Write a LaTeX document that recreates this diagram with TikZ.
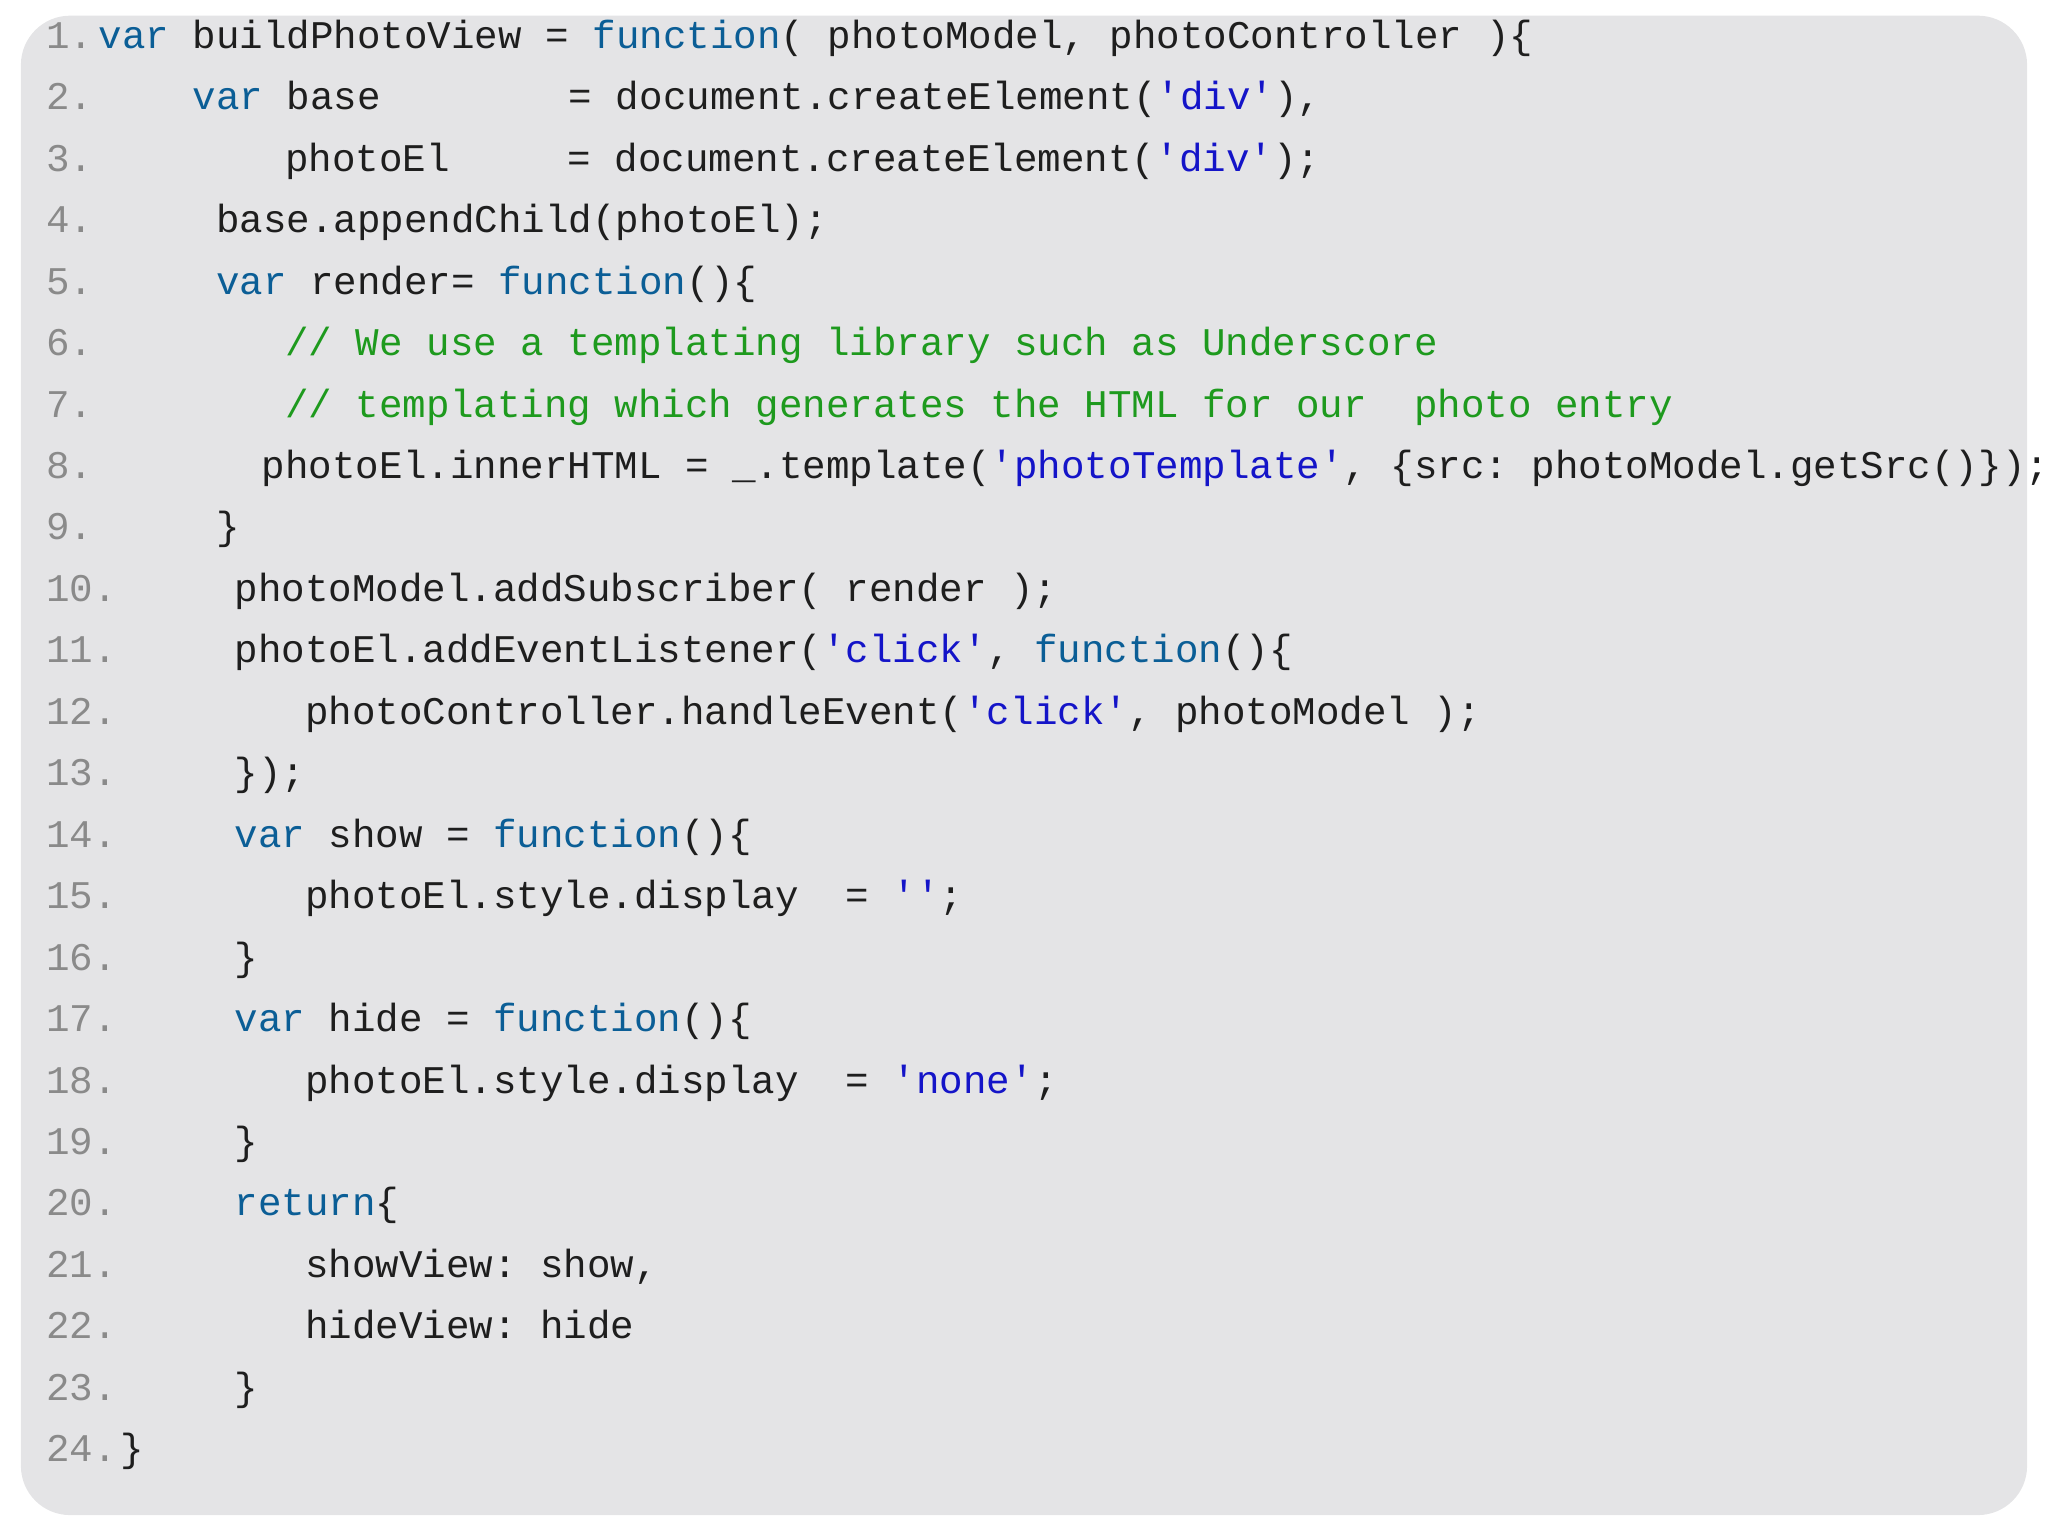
\documentclass[tikz,border=0pt]{standalone}
\usepackage{fontspec}
\newfontfamily\codefont{Liberation Mono}
\definecolor{kw}{HTML}{0B5E96}
\definecolor{strc}{HTML}{1414C8}
\definecolor{cmt}{HTML}{1E9A1E}
\definecolor{lnum}{HTML}{8A8A8A}
\definecolor{txt}{HTML}{1E1E1E}
\definecolor{bg}{HTML}{E4E4E6}
\newcommand\K[1]{\textcolor{kw}{#1}}
\newcommand\St[1]{\textcolor{strc}{#1}}
\newcommand\Cm[1]{\textcolor{cmt}{#1}}
\tikzset{cl/.style={anchor=base west,inner sep=0pt,font=\codefont\fontsize{11.15}{13}\selectfont,text=txt},
 ln/.style={cl,text=lnum}}
\begin{document}
\begin{tikzpicture}[x=0.01306cm,y=-0.01306cm]
\useasboundingbox (0,0) rectangle (1568,1176);
\fill[bg,rounded corners=14pt] (16,12) rectangle (1552,1160);
\foreach \n [count=\i] in {1,...,24}{
  \node[ln] (n\i) at (35,{37+47.05*(\i-1)}) {\n.};
}
\newcommand\Lc[3]{\node[cl] (c#1) at (#2,{37+47.05*(#1-1)}) {#3};}
\Lc{1}{75}{\K{var}~buildPhotoView~=~\K{function}(~photoModel,~photoController~)\{}
\Lc{2}{147}{\K{var}~base~~~~~~~~=~document.createElement(\St{'div'}),}
\Lc{3}{218}{photoEl~~~~~=~document.createElement(\St{'div'});}
\Lc{4}{165}{base.appendChild(photoEl);}
\Lc{5}{165}{\K{var}~render=~\K{function}()\{}
\Lc{6}{218}{\Cm{//~We~use~a~templating~library~such~as~Underscore}}
\Lc{7}{218}{\Cm{//~templating~which~generates~the~HTML~for~our~~photo~entry}}
\Lc{8}{200}{photoEl.innerHTML~=~\_.template(\St{'photoTemplate'},~\{src:~photoModel.getSrc()\});}
\Lc{9}{165}{\}}
\Lc{10}{179}{photoModel.addSubscriber(~render~);}
\Lc{11}{179}{photoEl.addEventListener(\St{'click'},~\K{function}()\{}
\Lc{12}{233}{photoController.handleEvent(\St{'click'},~photoModel~);}
\Lc{13}{179}{\});}
\Lc{14}{179}{\K{var}~show~=~\K{function}()\{}
\Lc{15}{233}{photoEl.style.display~~=~\St{''};}
\Lc{16}{179}{\}}
\Lc{17}{179}{\K{var}~hide~=~\K{function}()\{}
\Lc{18}{233}{photoEl.style.display~~=~\St{'none'};}
\Lc{19}{179}{\}}
\Lc{20}{179}{\K{return}\{}
\Lc{21}{233}{showView:~show,}
\Lc{22}{233}{hideView:~hide}
\Lc{23}{179}{\}}
\Lc{24}{92}{\}}
\end{tikzpicture}
\end{document}
